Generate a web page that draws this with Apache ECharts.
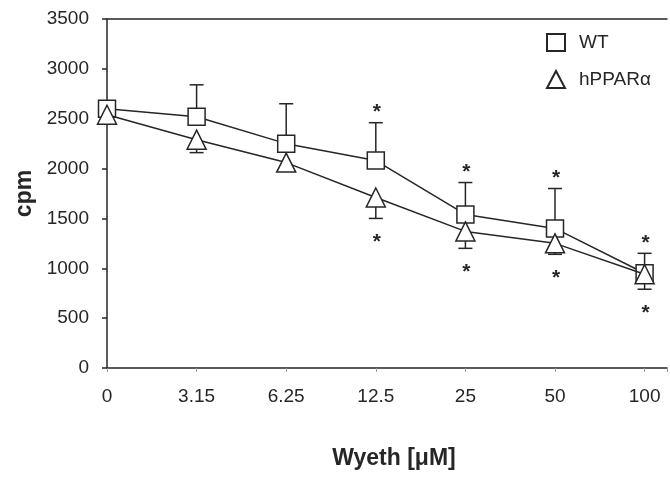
<!DOCTYPE html>
<html>
<head>
<meta charset="utf-8">
<script src="https://cdn.jsdelivr.net/npm/echarts@6/dist/echarts.min.js"></script>
<style>
html, body { margin: 0; padding: 0; background: #fff; }
#chart { width: 670px; height: 477px; }
</style>
</head>
<body>
<div id="chart"></div>
<script>
// doses of Wyeth (uM), plotted at even spacing
var doses = ['0', '3.15', '6.25', '12.5', '25', '50', '100']
var yTicks = [0, 500, 1000, 1500, 2000, 2500, 3000, 3500]

// WT: mean and upward error
var wtMean = [2600, 2520, 2250, 2080, 1540, 1400, 950]
var wtErr = [0, 320, 400, 380, 320, 400, 200]
var wtSig = [0, 0, 0, 1, 1, 1, 1]

// hPPARa: mean and downward error
var hpMean = [2540, 2290, 2060, 1710, 1370, 1250, 940]
var hpErr = [0, 130, 0, 210, 170, 110, 150]
var hpSig = [0, 0, 0, 1, 1, 1, 1]

var ink = '#262626'
var font = 'Liberation Sans, Arial, sans-serif'

function points (vals) {
  return vals.map(function (v, i) { return [i, v] })
}
function errData (vals, errs, sig) {
  return vals.map(function (v, i) { return [i, v, errs[i], sig[i]] })
}

// dir = 1 draws the bar upward, -1 downward; a star sits past the cap
function errRender (dir) {
  return function (params, api) {
    var i = api.value(0)
    var v = api.value(1)
    var e = api.value(2)
    var s = api.value(3)
    var p0 = api.coord([i, v])
    var p1 = api.coord([i, v + dir * e])
    var kids = []
    if (e > 0) {
      kids.push({ type: 'line', shape: { x1: p0[0], y1: p0[1], x2: p1[0], y2: p1[1] }, style: { stroke: ink, lineWidth: 1.5 } })
      kids.push({ type: 'line', shape: { x1: p1[0] - 7, y1: p1[1], x2: p1[0] + 7, y2: p1[1] }, style: { stroke: ink, lineWidth: 1.5 } })
    }
    if (s) {
      var ty = dir > 0 ? p1[1] - 10 : p1[1] + 24
      kids.push({ type: 'text', style: { text: '*', x: p1[0] + 1, y: ty, align: 'center', verticalAlign: 'middle', font: 'bold 21px ' + font, fill: ink } })
    }
    return { type: 'group', children: kids }
  }
}

var chart = echarts.init(document.getElementById('chart'))
var option = {
  animation: false,
  backgroundColor: '#fff',
  grid: { left: 107, right: 0, top: 19, bottom: 109 },
  legend: {
    orient: 'vertical',
    left: 541,
    top: 28,
    itemWidth: 18,
    itemHeight: 17,
    itemGap: 18,
    textStyle: { fontFamily: font, fontSize: 19, color: ink, padding: [0, 0, 0, 9] },
    data: [{ name: 'WT', icon: 'rect' }, { name: 'hPPARα', icon: 'triangle' }]
  },
  xAxis: [
    {
      type: 'value',
      min: 0,
      max: 6.25,
      interval: 1,
      name: 'Wyeth [μM]',
      nameLocation: 'middle',
      nameGap: 79,
      nameTextStyle: { fontFamily: font, fontSize: 23, fontWeight: 'bold', color: ink, padding: [0, 0, 0, 14] },
      axisLine: { lineStyle: { color: ink, width: 1.5 } },
      axisTick: { length: 4, lineStyle: { color: '#999' } },
      splitLine: { show: false },
      axisLabel: {
        margin: 19,
        fontFamily: font,
        fontSize: 19,
        color: ink,
        formatter: function (v) { return doses[v] !== undefined ? doses[v] : '' }
      }
    },
    {
      type: 'value',
      position: 'top',
      min: 0,
      max: 6.25,
      axisLine: { show: true, lineStyle: { color: ink, width: 1.5 } },
      axisTick: { show: false },
      axisLabel: { show: false },
      splitLine: { show: false }
    }
  ],
  yAxis: {
    type: 'value',
    min: yTicks[0],
    max: yTicks[yTicks.length - 1],
    interval: 500,
    name: 'cpm',
    nameLocation: 'middle',
    nameGap: 66,
    nameTextStyle: { fontFamily: font, fontSize: 23, fontWeight: 'bold', color: ink },
    axisLine: { show: true, lineStyle: { color: ink, width: 1.5 } },
    axisTick: { show: true, length: 5, lineStyle: { color: ink, width: 1.5 } },
    splitLine: { show: false },
    axisLabel: {
      margin: 18,
      fontFamily: font,
      fontSize: 19,
      color: ink,
      formatter: function (v) { return String(v) }
    }
  },
  series: [
    {
      type: 'custom',
      z: 1,
      renderItem: errRender(1),
      encode: { x: 0, y: 1 },
      data: errData(wtMean, wtErr, wtSig)
    },
    {
      type: 'custom',
      z: 1,
      renderItem: errRender(-1),
      encode: { x: 0, y: 1 },
      data: errData(hpMean, hpErr, hpSig)
    },
    {
      name: 'WT',
      type: 'line',
      z: 2,
      symbol: 'rect',
      symbolSize: 17,
      lineStyle: { color: ink, width: 1.5 },
      itemStyle: { color: '#fff', borderColor: ink, borderWidth: 1.5 },
      data: points(wtMean)
    },
    {
      name: 'hPPARα',
      type: 'line',
      z: 3,
      symbol: 'triangle',
      symbolSize: 19,
      lineStyle: { color: ink, width: 1.5 },
      itemStyle: { color: '#fff', borderColor: ink, borderWidth: 1.5 },
      data: points(hpMean)
    }
  ]
}
chart.setOption(option)
</script>
</body>
</html>
